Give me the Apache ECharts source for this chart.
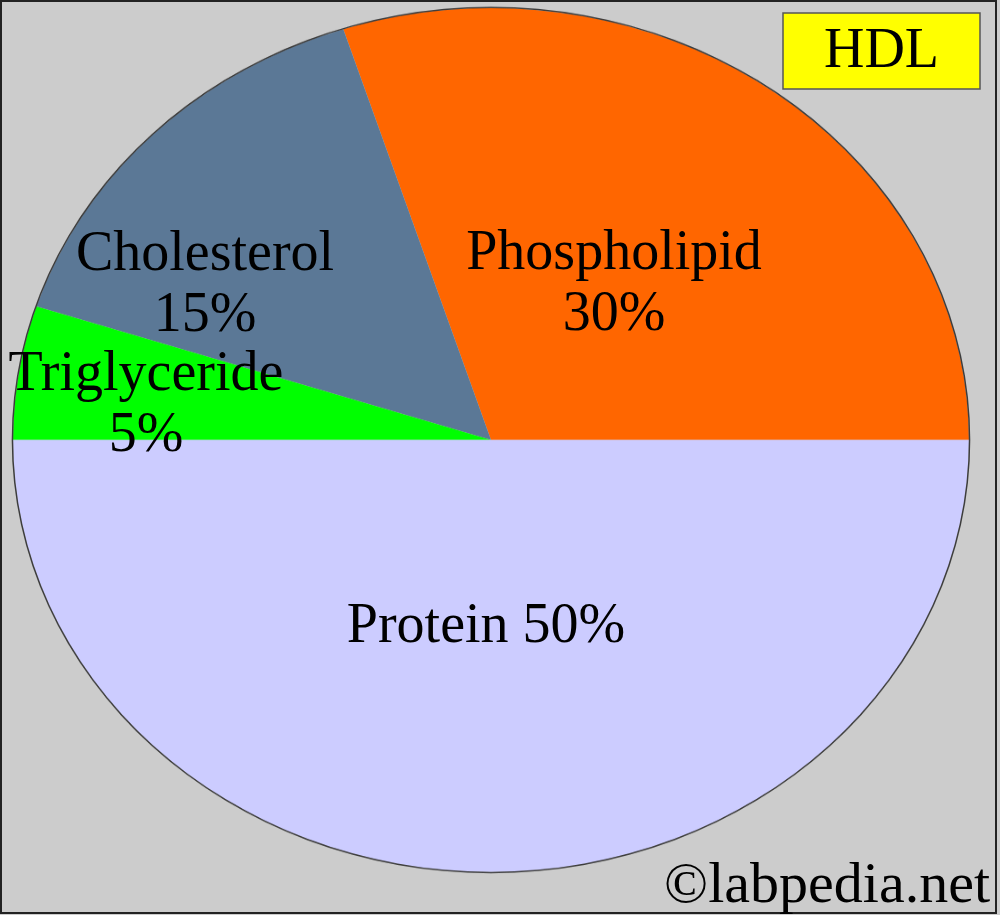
<!DOCTYPE html>
<html><head><meta charset="utf-8">
<script src="https://cdn.jsdelivr.net/npm/echarts@6/dist/echarts.min.js"></script>
<style>
html,body{margin:0;padding:0;background:#cccccc;width:1000px;height:915px;overflow:hidden}
#pie{position:absolute;left:0;top:0;width:1000px;height:1013px;transform:scaleY(0.9038);transform-origin:0 0}
#top{position:absolute;left:0;top:0;width:1000px;height:915px}
</style></head><body>
<div id="pie"></div><div id="top"></div>
<script>
// ---- data ----
const categories = ['Phospholipid', 'Cholesterol', 'Triglyceride', 'Protein'];
const values = [30, 15, 5, 50];
const titleText = 'HDL';
const creditText = '\u00A9labpedia.net';

// ---- styling / layout ----
const colors = ['#ff6600', '#5b7896', '#00ff00', '#ccccff'];
const labelSep = ['\n', '\n', '\n', ' '];
const labelPos = [[614, 285], [205, 286], [146, 406], [486, 627]];
const squash = 0.9038;           // vertical flattening of the pie (ellipse)
const cx = 491, cy = 440, R = 478;
const serif = 'Liberation Serif';

const chartA = echarts.init(document.getElementById('pie'), null, {renderer: 'canvas'});
chartA.setOption({
  animation: false,
  series: [
    {
      type: 'pie', center: [cx, cy / squash], radius: [0, R],
      startAngle: 0, clockwise: false, silent: true,
      itemStyle: {borderWidth: 0},
      label: {show: false}, labelLine: {show: false},
      data: categories.map((n, i) => ({name: n, value: values[i], itemStyle: {color: colors[i]}}))
    },
    {
      type: 'pie', center: [cx, cy / squash], radius: [R - 0.2, R + 1.3], silent: true,
      itemStyle: {borderWidth: 0},
      label: {show: false}, labelLine: {show: false},
      data: [{value: 1, itemStyle: {color: '#3c3c3c'}}]
    }
  ]
});

const chartB = echarts.init(document.getElementById('top'), null, {renderer: 'canvas'});
chartB.setOption({
  animation: false,
  graphic: [
    {type: 'rect', silent: true, shape: {x: 1, y: 1, width: 995, height: 912},
     style: {fill: 'none', stroke: '#222', lineWidth: 2}},
    {type: 'rect', silent: true, shape: {x: 783, y: 13, width: 197, height: 76},
     style: {fill: '#ffff00', stroke: '#555', lineWidth: 1.5}},
    {type: 'text', silent: true, x: 881.5, y: 52.5,
     style: {text: titleText, fontSize: 56, fontFamily: serif, fill: '#000', align: 'center', verticalAlign: 'middle'}},
    {type: 'text', silent: true, x: 990, y: 887,
     style: {text: creditText, fontSize: 58, fontFamily: serif, fill: '#000', align: 'right', verticalAlign: 'middle'}}
  ],
  series: [{
    type: 'pie', center: [cx, cy], radius: [0, R],
    startAngle: 0, clockwise: false, silent: true,
    itemStyle: {color: 'rgba(0,0,0,0)', borderWidth: 0},
    label: {
      show: true, position: 'inside', color: '#000',
      fontFamily: serif, fontSize: 56, lineHeight: 61, align: 'center',
      formatter: p => p.name + labelSep[p.dataIndex] + p.value + '%'
    },
    labelLine: {show: false},
    labelLayout: p => ({x: labelPos[p.dataIndex][0], y: labelPos[p.dataIndex][1], align: 'center', verticalAlign: 'middle'}),
    data: categories.map((n, i) => ({name: n, value: values[i]}))
  }]
});
</script>
</body></html>
